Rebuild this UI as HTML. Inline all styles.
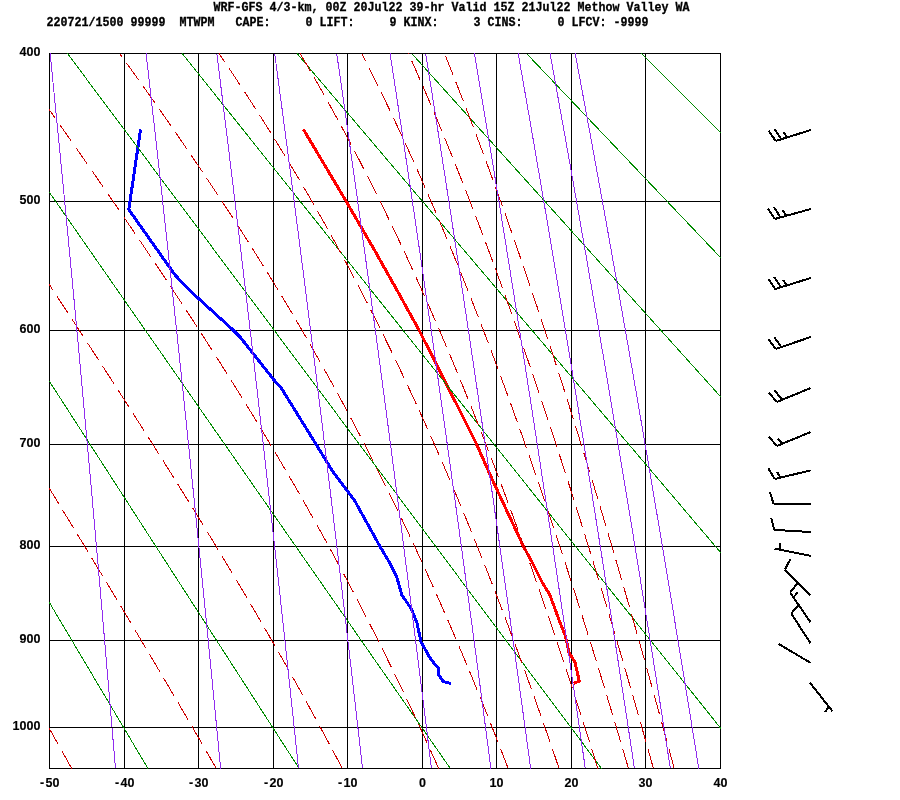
<!DOCTYPE html>
<html lang="en"><head><meta charset="utf-8"><title>WRF-GFS sounding Methow Valley WA</title>
<style>html,body{margin:0;padding:0;background:#fff}body{width:900px;height:800px;overflow:hidden}svg{display:block;will-change:transform}text{white-space:pre;font-family:"Liberation Mono","DejaVu Sans Mono",monospace;font-weight:bold;fill:#000;stroke:#000;stroke-width:.3px}.ax{font-family:"Liberation Sans","DejaVu Sans",sans-serif;font-size:12.5px;stroke-width:.15px}</style></head><body>
<svg width="900" height="800" viewBox="0 0 900 800">
<rect width="900" height="800" fill="#fff"/>
<defs><clipPath id="c"><rect x="49" y="53" width="672" height="716"/></clipPath></defs>
<path d="M49.5 53V769M124.5 53V769M198.5 53V769M273.5 53V769M347.5 53V769M422.5 53V769M496.5 53V769M571.5 53V769M645.5 53V769M720.5 53V769M49 53.5H721M49 201.5H721M49 330.5H721M49 444.5H721M49 546.5H721M49 640.5H721M49 727.5H721M49 768.5H721" fill="none" stroke="#000" stroke-width="1" shape-rendering="crispEdges"/>
<g fill="none" stroke-width="3" stroke-linejoin="round" shape-rendering="crispEdges">
<path d="M140.6 129.4L128.75 209.5L175 275L191.25 291.9L232.5 329.5L240 336.9L275 381.25L281.25 388.1L315.6 443.5L332.5 471.25L355 501.25L380 546.5L388.75 561.25L396.9 577.5L401.9 595L411.25 608.75L416.9 622.5L421 642L430.6 658.9L438.5 668.5L438.5 674.6L443.3 681.6L450.8 683.5" stroke="#00f"/>
<path d="M303.5 129.5L346.3 201.5L374.4 250L396.9 290L418.7 329.5L444.4 380L476.25 443.5L491.9 478.75L523.5 546.5L531.25 560.6L542.5 583.1L549.4 593.75L553.1 603.75L560 622.5L565 635L566.5 640.5L569 653L571 655.6L575 662.5L579.3 681L573.6 683.5" stroke="#f00"/>
</g>
<g clip-path="url(#c)" fill="none" stroke-width="1" shape-rendering="crispEdges"><g>
<path d="M-2.75 768.5L-391.09 53.5M148.46 768.5L-276.32 53.5M299.66 768.5L-161.56 53.5M450.87 768.5L-46.79 53.5M602.07 768.5L67.97 53.5M753.27 768.5L182.74 53.5M904.48 768.5L297.51 53.5M1055.68 768.5L412.27 53.5M1206.89 768.5L527.04 53.5M1358.09 768.5L641.8 53.5M1509.3 768.5L756.57 53.5M1660.5 768.5L871.34 53.5M1811.7 768.5L986.1 53.5" stroke="#008b00" transform="translate(-0.5 0)"/>
<path d="M71.75 768.5L67.2 760.4L62.62 752.24L58.01 744.03L53.36 735.76L48.68 727.43L43.96 719.04L39.2 710.59L34.41 702.08L29.57 693.5L24.7 684.86L19.79 676.16L14.84 667.39L9.85 658.55L4.82 649.64L-0.26 640.66L-5.37 631.61L-10.53 622.49L-15.73 613.29L-20.98 604.02L-26.27 594.67L-31.61 585.24L-37 575.74L-42.43 566.14L-47.92 556.47L-53.45 546.71L-59.03 536.86L-64.67 526.92L-70.36 516.89L-76.1 506.77L-81.9 496.55L-87.75 486.24L-93.67 475.82L-99.64 465.3L-105.67 454.68L-111.76 443.95L-117.92 433.11L-124.14 422.15L-130.43 411.08L-136.79 399.9L-143.21 388.59L-149.71 377.15L-156.28 365.59L-162.93 353.89L-169.65 342.06L-176.45 330.09L-183.34 317.98L-190.31 305.72L-197.36 293.31L-204.51 280.74L-211.74 268.01L-219.08 255.11L-226.51 242.04L-234.04 228.8L-241.67 215.37L-249.41 201.75L-257.27 187.94L-265.24 173.92L-273.33 159.69L-281.54 145.24L-289.88 130.57L-298.36 115.67L-306.97 100.52L-315.73 85.11L-324.64 69.44L-333.71 53.5M216.26 768.5L211.6 760.4L206.9 752.24L202.16 744.03L197.36 735.76L192.52 727.43L187.63 719.04L182.7 710.59L177.71 702.08L172.68 693.5L167.59 684.86L162.45 676.16L157.27 667.39L152.03 658.55L146.74 649.64L141.39 640.66L135.99 631.61L130.54 622.49L125.03 613.29L119.47 604.02L113.85 594.67L108.18 585.24L102.44 575.74L96.65 566.14L90.79 556.47L84.88 546.71L78.91 536.86L72.87 526.92L66.77 516.89L60.6 506.77L54.37 496.55L48.08 486.24L41.71 475.82L35.28 465.3L28.78 454.68L22.2 443.95L15.55 433.11L8.83 422.15L2.03 411.08L-4.85 399.9L-11.81 388.59L-18.84 377.15L-25.97 365.59L-33.17 353.89L-40.46 342.06L-47.85 330.09L-55.32 317.98L-62.89 305.72L-70.56 293.31L-78.32 280.74L-86.19 268.01L-94.16 255.11L-102.24 242.04L-110.43 228.8L-118.74 215.37L-127.16 201.75L-135.71 187.94L-144.39 173.92L-153.2 159.69L-162.14 145.24L-171.22 130.57L-180.45 115.67L-189.83 100.52L-199.37 85.11L-209.08 69.44L-218.95 53.5M342.3 768.5L338.04 760.4L333.71 752.24L329.33 744.03L324.89 735.76L320.4 727.43L315.84 719.04L311.22 710.59L306.53 702.08L301.79 693.5L296.98 684.86L292.1 676.16L287.16 667.39L282.14 658.55L277.06 649.64L271.91 640.66L266.69 631.61L261.4 622.49L256.03 613.29L250.59 604.02L245.07 594.67L239.48 585.24L233.81 575.74L228.06 566.14L222.23 556.47L216.32 546.71L210.32 536.86L204.25 526.92L198.09 516.89L191.84 506.77L185.5 496.55L179.08 486.24L172.57 475.82L165.97 465.3L159.27 454.68L152.48 443.95L145.6 433.11L138.62 422.15L131.54 411.08L124.37 399.9L117.09 388.59L109.71 377.15L102.23 365.59L94.64 353.89L86.95 342.06L79.14 330.09L71.22 317.98L63.19 305.72L55.05 293.31L46.78 280.74L38.39 268.01L29.88 255.11L21.25 242.04L12.48 228.8L3.58 215.37L-5.46 201.75L-14.63 187.94L-23.96 173.92L-33.43 159.69L-43.05 145.24L-52.83 130.57L-62.78 115.67L-72.9 100.52L-83.19 85.11L-93.66 69.44L-104.32 53.5M438.69 768.5L435.06 760.4L431.38 752.24L427.65 744.03L423.87 735.76L420.02 727.43L416.12 719.04L412.16 710.59L408.15 702.08L404.07 693.5L399.92 684.86L395.72 676.16L391.44 667.39L387.1 658.55L382.68 649.64L378.2 640.66L373.64 631.61L369.01 622.49L364.29 613.29L359.5 604.02L354.63 594.67L349.67 585.24L344.62 575.74L339.49 566.14L334.27 556.47L328.95 546.71L323.54 536.86L318.03 526.92L312.41 516.89L306.7 506.77L300.88 496.55L294.96 486.24L288.92 475.82L282.77 465.3L276.5 454.68L270.12 443.95L263.61 433.11L256.98 422.15L250.23 411.08L243.34 399.9L236.32 388.59L229.17 377.15L221.88 365.59L214.45 353.89L206.88 342.06L199.16 330.09L191.29 317.98L183.28 305.72L175.1 293.31L166.77 280.74L158.29 268.01L149.63 255.11L140.82 242.04L131.83 228.8L122.67 215.37L113.34 201.75L103.83 187.94L94.13 173.92L84.25 159.69L74.18 145.24L63.91 130.57L53.45 115.67L42.78 100.52L31.9 85.11L20.81 69.44L9.49 53.5M508.17 768.5L505.07 760.4L501.92 752.24L498.73 744.03L495.49 735.76L492.21 727.43L488.88 719.04L485.51 710.59L482.09 702.08L478.61 693.5L475.09 684.86L471.51 676.16L467.88 667.39L464.19 658.55L460.44 649.64L456.63 640.66L452.76 631.61L448.83 622.49L444.83 613.29L440.76 604.02L436.62 594.67L432.41 585.24L428.13 575.74L423.77 566.14L419.33 556.47L414.8 546.71L410.2 536.86L405.5 526.92L400.72 516.89L395.83 506.77L390.86 496.55L385.78 486.24L380.6 475.82L375.31 465.3L369.9 454.68L364.39 443.95L358.75 433.11L352.99 422.15L347.1 411.08L341.08 399.9L334.92 388.59L328.61 377.15L322.16 365.59L315.56 353.89L308.8 342.06L301.87 330.09L294.78 317.98L287.51 305.72L280.05 293.31L272.42 280.74L264.58 268.01L256.55 255.11L248.31 242.04L239.86 228.8L231.2 215.37L222.3 201.75L213.18 187.94L203.82 173.92L194.21 159.69L184.36 145.24L174.25 130.57L163.87 115.67L153.23 100.52L142.31 85.11L131.1 69.44L119.61 53.5M559.08 768.5L556.32 760.4L553.53 752.24L550.7 744.03L547.84 735.76L544.94 727.43L542.01 719.04L539.03 710.59L536.02 702.08L532.96 693.5L529.87 684.86L526.73 676.16L523.54 667.39L520.31 658.55L517.04 649.64L513.71 640.66L510.34 631.61L506.91 622.49L503.43 613.29L499.9 604.02L496.31 594.67L492.66 585.24L488.96 575.74L485.19 566.14L481.35 556.47L477.45 546.71L473.48 536.86L469.44 526.92L465.33 516.89L461.14 506.77L456.87 496.55L452.52 486.24L448.09 475.82L443.56 465.3L438.95 454.68L434.23 443.95L429.42 433.11L424.51 422.15L419.49 411.08L414.35 399.9L409.1 388.59L403.73 377.15L398.23 365.59L392.6 353.89L386.83 342.06L380.91 330.09L374.85 317.98L368.62 305.72L362.23 293.31L355.67 280.74L348.92 268.01L341.98 255.11L334.85 242.04L327.51 228.8L319.94 215.37L312.15 201.75L304.12 187.94L295.84 173.92L287.29 159.69L278.47 145.24L269.36 130.57L259.95 115.67L250.23 100.52L240.18 85.11L229.78 69.44L219.03 53.5M597.85 768.5L595.32 760.4L592.76 752.24L590.18 744.03L587.56 735.76L584.91 727.43L582.24 719.04L579.53 710.59L576.78 702.08L574 693.5L571.19 684.86L568.34 676.16L565.45 667.39L562.53 658.55L559.56 649.64L556.56 640.66L553.51 631.61L550.43 622.49L547.3 613.29L544.12 604.02L540.89 594.67L537.62 585.24L534.3 575.74L530.93 566.14L527.51 556.47L524.03 546.71L520.49 536.86L516.9 526.92L513.25 516.89L509.53 506.77L505.75 496.55L501.9 486.24L497.99 475.82L494 465.3L489.94 454.68L485.8 443.95L481.58 433.11L477.27 422.15L472.88 411.08L468.4 399.9L463.82 388.59L459.15 377.15L454.37 365.59L449.49 353.89L444.49 342.06L439.37 330.09L434.14 317.98L428.77 305.72L423.27 293.31L417.62 280.74L411.83 268.01L405.88 255.11L399.76 242.04L393.47 228.8L386.99 215.37L380.33 201.75L373.45 187.94L366.36 173.92L359.04 159.69L351.48 145.24L343.66 130.57L335.56 115.67L327.18 100.52L318.49 85.11L309.47 69.44L300.1 53.5M628.47 768.5L626.1 760.4L623.71 752.24L621.28 744.03L618.83 735.76L616.36 727.43L613.85 719.04L611.32 710.59L608.76 702.08L606.17 693.5L603.55 684.86L600.89 676.16L598.21 667.39L595.49 658.55L592.74 649.64L589.95 640.66L587.12 631.61L584.26 622.49L581.37 613.29L578.43 604.02L575.45 594.67L572.43 585.24L569.37 575.74L566.27 566.14L563.12 556.47L559.92 546.71L556.68 536.86L553.38 526.92L550.04 516.89L546.64 506.77L543.19 496.55L539.68 486.24L536.11 475.82L532.48 465.3L528.79 454.68L525.04 443.95L521.22 433.11L517.33 422.15L513.36 411.08L509.32 399.9L505.2 388.59L501 377.15L496.72 365.59L492.34 353.89L487.88 342.06L483.31 330.09L478.65 317.98L473.88 305.72L469 293.31L464 280.74L458.88 268.01L453.64 255.11L448.26 242.04L442.73 228.8L437.06 215.37L431.23 201.75L425.23 187.94L419.06 173.92L412.7 159.69L406.14 145.24L399.37 130.57L392.37 115.67L385.14 100.52L377.65 85.11L369.88 69.44L361.83 53.5M653.41 768.5L651.15 760.4L648.86 752.24L646.56 744.03L644.22 735.76L641.87 727.43L639.49 719.04L637.08 710.59L634.65 702.08L632.19 693.5L629.7 684.86L627.19 676.16L624.64 667.39L622.06 658.55L619.46 649.64L616.82 640.66L614.15 631.61L611.45 622.49L608.72 613.29L605.94 604.02L603.14 594.67L600.3 585.24L597.41 575.74L594.49 566.14L591.53 556.47L588.53 546.71L585.49 536.86L582.4 526.92L579.27 516.89L576.09 506.77L572.87 496.55L569.59 486.24L566.26 475.82L562.88 465.3L559.45 454.68L555.96 443.95L552.41 433.11L548.8 422.15L545.13 411.08L541.39 399.9L537.58 388.59L533.71 377.15L529.76 365.59L525.73 353.89L521.63 342.06L517.44 330.09L513.17 317.98L508.81 305.72L504.35 293.31L499.79 280.74L495.14 268.01L490.37 255.11L485.49 242.04L480.5 228.8L475.37 215.37L470.12 201.75L464.73 187.94L459.19 173.92L453.5 159.69L447.64 145.24L441.61 130.57L435.4 115.67L428.99 100.52L422.37 85.11L415.52 69.44L408.44 53.5M674.2 768.5L672.02 760.4L669.82 752.24L667.59 744.03L665.35 735.76L663.08 727.43L660.79 719.04L658.48 710.59L656.14 702.08L653.77 693.5L651.38 684.86L648.97 676.16L646.52 667.39L644.05 658.55L641.56 649.64L639.03 640.66L636.47 631.61L633.88 622.49L631.26 613.29L628.61 604.02L625.93 594.67L623.21 585.24L620.46 575.74L617.68 566.14L614.85 556.47L611.99 546.71L609.09 536.86L606.15 526.92L603.17 516.89L600.15 506.77L597.09 496.55L593.98 486.24L590.82 475.82L587.62 465.3L584.36 454.68L581.06 443.95L577.7 433.11L574.29 422.15L570.82 411.08L567.3 399.9L563.71 388.59L560.07 377.15L556.35 365.59L552.57 353.89L548.72 342.06L544.8 330.09L540.8 317.98L536.72 305.72L532.56 293.31L528.31 280.74L523.98 268.01L519.55 255.11L515.02 242.04L510.39 228.8L505.65 215.37L500.79 201.75L495.82 187.94L490.72 173.92L485.49 159.69L480.12 145.24L474.61 130.57L468.93 115.67L463.09 100.52L457.08 85.11L450.87 69.44L444.47 53.5" stroke="#cd0000" stroke-dasharray="20.5 7.5"/>
<path d="M115.44 768.5L114.77 760.4L114.09 752.24L113.4 744.03L112.7 735.76L112 727.43L111.3 719.04L110.58 710.59L109.86 702.08L109.14 693.5L108.4 684.86L107.66 676.16L106.91 667.39L106.16 658.55L105.4 649.64L104.62 640.66L103.85 631.61L103.06 622.49L102.27 613.29L101.46 604.02L100.65 594.67L99.83 585.24L99 575.74L98.16 566.14L97.32 556.47L96.46 546.71L95.59 536.86L94.72 526.92L93.83 516.89L92.93 506.77L92.02 496.55L91.1 486.24L90.17 475.82L89.23 465.3L88.27 454.68L87.31 443.95L86.33 433.11L85.33 422.15L84.33 411.08L83.31 399.9L82.27 388.59L81.22 377.15L80.16 365.59L79.08 353.89L77.98 342.06L76.87 330.09L75.74 317.98L74.6 305.72L73.43 293.31L72.25 280.74L71.05 268.01L69.82 255.11L68.58 242.04L67.32 228.8L66.03 215.37L64.72 201.75L63.38 187.94L62.02 173.92L60.64 159.69L59.22 145.24L57.78 130.57L56.31 115.67L54.81 100.52L53.28 85.11L51.71 69.44L50.11 53.5M220.62 768.5L219.84 760.4L219.06 752.24L218.27 744.03L217.48 735.76L216.68 727.43L215.87 719.04L215.05 710.59L214.23 702.08L213.4 693.5L212.56 684.86L211.71 676.16L210.86 667.39L210 658.55L209.12 649.64L208.24 640.66L207.35 631.61L206.45 622.49L205.55 613.29L204.63 604.02L203.7 594.67L202.76 585.24L201.82 575.74L200.86 566.14L199.89 556.47L198.91 546.71L197.92 536.86L196.92 526.92L195.91 516.89L194.88 506.77L193.84 496.55L192.79 486.24L191.73 475.82L190.65 465.3L189.56 454.68L188.46 443.95L187.34 433.11L186.21 422.15L185.06 411.08L183.9 399.9L182.72 388.59L181.52 377.15L180.31 365.59L179.07 353.89L177.83 342.06L176.56 330.09L175.27 317.98L173.96 305.72L172.64 293.31L171.29 280.74L169.92 268.01L168.52 255.11L167.11 242.04L165.67 228.8L164.2 215.37L162.71 201.75L161.19 187.94L159.64 173.92L158.06 159.69L156.45 145.24L154.81 130.57L153.14 115.67L151.43 100.52L149.68 85.11L147.9 69.44L146.08 53.5M298.51 768.5L297.66 760.4L296.8 752.24L295.94 744.03L295.07 735.76L294.19 727.43L293.3 719.04L292.4 710.59L291.5 702.08L290.58 693.5L289.66 684.86L288.73 676.16L287.79 667.39L286.84 658.55L285.89 649.64L284.92 640.66L283.94 631.61L282.96 622.49L281.96 613.29L280.95 604.02L279.93 594.67L278.91 585.24L277.87 575.74L276.81 566.14L275.75 556.47L274.68 546.71L273.59 536.86L272.49 526.92L271.38 516.89L270.25 506.77L269.12 496.55L267.96 486.24L266.8 475.82L265.62 465.3L264.42 454.68L263.21 443.95L261.98 433.11L260.74 422.15L259.48 411.08L258.21 399.9L256.91 388.59L255.6 377.15L254.27 365.59L252.92 353.89L251.55 342.06L250.16 330.09L248.75 317.98L247.32 305.72L245.86 293.31L244.39 280.74L242.89 268.01L241.36 255.11L239.81 242.04L238.23 228.8L236.62 215.37L234.99 201.75L233.32 187.94L231.63 173.92L229.9 159.69L228.14 145.24L226.34 130.57L224.51 115.67L222.64 100.52L220.73 85.11L218.78 69.44L216.78 53.5M362.54 768.5L361.62 760.4L360.7 752.24L359.77 744.03L358.83 735.76L357.88 727.43L356.92 719.04L355.96 710.59L354.98 702.08L354 693.5L353.01 684.86L352.01 676.16L351 667.39L349.98 658.55L348.94 649.64L347.9 640.66L346.85 631.61L345.79 622.49L344.72 613.29L343.63 604.02L342.54 594.67L341.43 585.24L340.31 575.74L339.18 566.14L338.04 556.47L336.88 546.71L335.71 536.86L334.53 526.92L333.33 516.89L332.12 506.77L330.9 496.55L329.66 486.24L328.4 475.82L327.13 465.3L325.85 454.68L324.54 443.95L323.23 433.11L321.89 422.15L320.54 411.08L319.16 399.9L317.77 388.59L316.36 377.15L314.93 365.59L313.48 353.89L312.01 342.06L310.52 330.09L309 317.98L307.46 305.72L305.9 293.31L304.31 280.74L302.7 268.01L301.06 255.11L299.39 242.04L297.69 228.8L295.97 215.37L294.21 201.75L292.42 187.94L290.6 173.92L288.75 159.69L286.86 145.24L284.93 130.57L282.96 115.67L280.95 100.52L278.9 85.11L276.81 69.44L274.67 53.5M431.44 768.5L430.45 760.4L429.45 752.24L428.45 744.03L427.43 735.76L426.41 727.43L425.37 719.04L424.33 710.59L423.28 702.08L422.22 693.5L421.15 684.86L420.07 676.16L418.98 667.39L417.87 658.55L416.76 649.64L415.64 640.66L414.5 631.61L413.35 622.49L412.2 613.29L411.03 604.02L409.84 594.67L408.65 585.24L407.44 575.74L406.22 566.14L404.99 556.47L403.74 546.71L402.48 536.86L401.2 526.92L399.91 516.89L398.61 506.77L397.29 496.55L395.95 486.24L394.6 475.82L393.23 465.3L391.84 454.68L390.44 443.95L389.02 433.11L387.57 422.15L386.12 411.08L384.64 399.9L383.14 388.59L381.62 377.15L380.08 365.59L378.51 353.89L376.93 342.06L375.32 330.09L373.68 317.98L372.03 305.72L370.34 293.31L368.63 280.74L366.89 268.01L365.13 255.11L363.33 242.04L361.5 228.8L359.65 215.37L357.75 201.75L355.83 187.94L353.87 173.92L351.87 159.69L349.84 145.24L347.76 130.57L345.64 115.67L343.48 100.52L341.28 85.11L339.02 69.44L336.72 53.5M490.89 768.5L489.84 760.4L488.78 752.24L487.7 744.03L486.62 735.76L485.53 727.43L484.43 719.04L483.32 710.59L482.2 702.08L481.07 693.5L479.93 684.86L478.77 676.16L477.61 667.39L476.44 658.55L475.25 649.64L474.05 640.66L472.84 631.61L471.62 622.49L470.39 613.29L469.14 604.02L467.88 594.67L466.61 585.24L465.32 575.74L464.02 566.14L462.71 556.47L461.38 546.71L460.03 536.86L458.68 526.92L457.3 516.89L455.91 506.77L454.5 496.55L453.08 486.24L451.64 475.82L450.18 465.3L448.71 454.68L447.21 443.95L445.7 433.11L444.16 422.15L442.61 411.08L441.04 399.9L439.44 388.59L437.82 377.15L436.18 365.59L434.52 353.89L432.83 342.06L431.12 330.09L429.38 317.98L427.61 305.72L425.82 293.31L424 280.74L422.15 268.01L420.27 255.11L418.36 242.04L416.42 228.8L414.45 215.37L412.43 201.75L410.39 187.94L408.3 173.92L406.18 159.69L404.02 145.24L401.81 130.57L399.56 115.67L397.26 100.52L394.92 85.11L392.52 69.44L390.08 53.5M530.66 768.5L529.56 760.4L528.45 752.24L527.33 744.03L526.2 735.76L525.07 727.43L523.92 719.04L522.76 710.59L521.59 702.08L520.41 693.5L519.22 684.86L518.02 676.16L516.81 667.39L515.58 658.55L514.35 649.64L513.1 640.66L511.84 631.61L510.57 622.49L509.28 613.29L507.98 604.02L506.67 594.67L505.34 585.24L504 575.74L502.65 566.14L501.28 556.47L499.89 546.71L498.49 536.86L497.08 526.92L495.64 516.89L494.2 506.77L492.73 496.55L491.25 486.24L489.75 475.82L488.23 465.3L486.69 454.68L485.13 443.95L483.56 433.11L481.96 422.15L480.34 411.08L478.7 399.9L477.04 388.59L475.35 377.15L473.64 365.59L471.91 353.89L470.15 342.06L468.37 330.09L466.56 317.98L464.72 305.72L462.86 293.31L460.96 280.74L459.04 268.01L457.08 255.11L455.09 242.04L453.07 228.8L451.02 215.37L448.92 201.75L446.79 187.94L444.62 173.92L442.41 159.69L440.16 145.24L437.86 130.57L435.52 115.67L433.13 100.52L430.69 85.11L428.2 69.44L425.66 53.5M585.3 768.5L584.14 760.4L582.97 752.24L581.79 744.03L580.59 735.76L579.39 727.43L578.18 719.04L576.95 710.59L575.72 702.08L574.47 693.5L573.21 684.86L571.94 676.16L570.66 667.39L569.36 658.55L568.06 649.64L566.74 640.66L565.41 631.61L564.06 622.49L562.7 613.29L561.33 604.02L559.94 594.67L558.54 585.24L557.12 575.74L555.69 566.14L554.24 556.47L552.78 546.71L551.3 536.86L549.8 526.92L548.29 516.89L546.76 506.77L545.21 496.55L543.65 486.24L542.06 475.82L540.46 465.3L538.83 454.68L537.19 443.95L535.52 433.11L533.83 422.15L532.13 411.08L530.39 399.9L528.64 388.59L526.86 377.15L525.06 365.59L523.23 353.89L521.37 342.06L519.49 330.09L517.58 317.98L515.64 305.72L513.67 293.31L511.67 280.74L509.64 268.01L507.57 255.11L505.48 242.04L503.34 228.8L501.17 215.37L498.96 201.75L496.71 187.94L494.43 173.92L492.09 159.69L489.72 145.24L487.3 130.57L484.83 115.67L482.31 100.52L479.74 85.11L477.11 69.44L474.42 53.5M634.45 768.5L633.23 760.4L632 752.24L630.75 744.03L629.5 735.76L628.24 727.43L626.96 719.04L625.68 710.59L624.38 702.08L623.07 693.5L621.75 684.86L620.42 676.16L619.07 667.39L617.71 658.55L616.34 649.64L614.95 640.66L613.56 631.61L612.14 622.49L610.72 613.29L609.27 604.02L607.82 594.67L606.35 585.24L604.86 575.74L603.36 566.14L601.84 556.47L600.3 546.71L598.75 536.86L597.18 526.92L595.59 516.89L593.99 506.77L592.36 496.55L590.72 486.24L589.06 475.82L587.37 465.3L585.67 454.68L583.94 443.95L582.2 433.11L580.43 422.15L578.63 411.08L576.82 399.9L574.98 388.59L573.11 377.15L571.22 365.59L569.3 353.89L567.36 342.06L565.38 330.09L563.38 317.98L561.35 305.72L559.28 293.31L557.18 280.74L555.05 268.01L552.89 255.11L550.69 242.04L548.45 228.8L546.18 215.37L543.86 201.75L541.51 187.94L539.11 173.92L536.67 159.69L534.18 145.24L531.64 130.57L529.05 115.67L526.41 100.52L523.72 85.11L520.97 69.44L518.15 53.5M670.37 768.5L669.1 760.4L667.83 752.24L666.54 744.03L665.24 735.76L663.93 727.43L662.61 719.04L661.28 710.59L659.94 702.08L658.58 693.5L657.21 684.86L655.83 676.16L654.44 667.39L653.03 658.55L651.61 649.64L650.18 640.66L648.73 631.61L647.27 622.49L645.79 613.29L644.3 604.02L642.79 594.67L641.27 585.24L639.73 575.74L638.17 566.14L636.6 556.47L635.01 546.71L633.4 536.86L631.78 526.92L630.14 516.89L628.47 506.77L626.79 496.55L625.09 486.24L623.37 475.82L621.63 465.3L619.86 454.68L618.08 443.95L616.27 433.11L614.44 422.15L612.58 411.08L610.7 399.9L608.8 388.59L606.87 377.15L604.91 365.59L602.93 353.89L600.91 342.06L598.87 330.09L596.8 317.98L594.7 305.72L592.56 293.31L590.39 280.74L588.19 268.01L585.95 255.11L583.68 242.04L581.36 228.8L579.01 215.37L576.62 201.75L574.18 187.94L571.7 173.92L569.18 159.69L566.6 145.24L563.98 130.57L561.3 115.67L558.57 100.52L555.79 85.11L552.94 69.44L550.04 53.5M698.76 768.5L697.46 760.4L696.15 752.24L694.82 744.03L693.49 735.76L692.15 727.43L690.79 719.04L689.42 710.59L688.04 702.08L686.65 693.5L685.24 684.86L683.82 676.16L682.39 667.39L680.95 658.55L679.49 649.64L678.01 640.66L676.52 631.61L675.02 622.49L673.5 613.29L671.97 604.02L670.42 594.67L668.86 585.24L667.28 575.74L665.68 566.14L664.06 556.47L662.43 546.71L660.78 536.86L659.11 526.92L657.42 516.89L655.72 506.77L653.99 496.55L652.24 486.24L650.47 475.82L648.68 465.3L646.87 454.68L645.04 443.95L643.18 433.11L641.3 422.15L639.4 411.08L637.47 399.9L635.51 388.59L633.53 377.15L631.52 365.59L629.48 353.89L627.42 342.06L625.32 330.09L623.19 317.98L621.03 305.72L618.84 293.31L616.61 280.74L614.35 268.01L612.05 255.11L609.72 242.04L607.34 228.8L604.93 215.37L602.47 201.75L599.97 187.94L597.43 173.92L594.83 159.69L592.19 145.24L589.5 130.57L586.75 115.67L583.95 100.52L581.09 85.11L578.18 69.44L575.19 53.5" stroke="#912cee"/>
</g></g>
<path d="M810.7 130L775.7 141M775.7 141L768.74 130.86M781.42 139.2L774.47 129.06M787.15 137.4L783.47 132.04M810.7 209L774.7 219M774.7 219L768.09 208.63M780.48 217.39L773.87 207.02M786.26 215.79L782.77 210.31M810.7 278L775.3 289M775.3 289L768.38 278.83M781.03 287.22L774.11 277.05M786.76 285.44L783.1 280.07M810.7 337L775.7 349M775.7 349L768.48 339.04M781.38 347.05L774.16 337.09M810.7 388L776.7 402M776.7 402L768.9 392.49M782.25 399.72L774.44 390.21M810.7 432L776.7 446M776.7 446L768.9 436.49M782.25 443.72L778.12 438.69M810.6 470.4L774.6 479M774.6 479L768.37 468.39M780.44 477.61L777.14 472M810.6 503.75L773.5 503.75M773.5 503.75L769.9 491.99M811 532L774.25 529.9M774.25 529.9L771.33 517.95M811 555.9L774.6 548.6M780.48 549.78L779.84 543.31M810.4 595L784.9 569.5M784.9 569.5L790.67 558.64M810.4 622.1L790.1 592.5M790.1 592.5L797.77 582.88M793.49 597.45L797.54 592.37M810.4 643.1L791.25 613.5M791.25 613.5L799.17 604.09M810.6 662.9L778.5 643.8M810 682.8L832.5 711.3M828.78 706.59L825.08 711.93" fill="none" stroke="#000" stroke-width="2" stroke-linecap="butt" shape-rendering="crispEdges"/>
<g font-size="12px">
<text x="213.5" y="11" textLength="476" lengthAdjust="spacingAndGlyphs">WRF-GFS 4/3-km, 00Z 20Jul22 39-hr Valid 15Z 21Jul22 Methow Valley WA</text>
<text x="46.5" y="26" textLength="602" lengthAdjust="spacingAndGlyphs">220721/1500 99999  MTWPM   CAPE:     0 LIFT:     9 KINX:     3 CINS:     0 LFCV: -9999</text>
<text class="ax" text-anchor="middle" x="23 30 37" y="56">400</text>
<text class="ax" text-anchor="middle" x="23 30 37" y="204">500</text>
<text class="ax" text-anchor="middle" x="23 30 37" y="333">600</text>
<text class="ax" text-anchor="middle" x="23 30 37" y="447">700</text>
<text class="ax" text-anchor="middle" x="23 30 37" y="549">800</text>
<text class="ax" text-anchor="middle" x="23 30 37" y="643">900</text>
<text class="ax" text-anchor="middle" x="16 23 30 37" y="730">1000</text>
<text class="ax" text-anchor="middle" x="42 49 56" y="787">-50</text>
<text class="ax" text-anchor="middle" x="117 124 131" y="787">-40</text>
<text class="ax" text-anchor="middle" x="191 198 205" y="787">-30</text>
<text class="ax" text-anchor="middle" x="266 273 280" y="787">-20</text>
<text class="ax" text-anchor="middle" x="340 347 354" y="787">-10</text>
<text class="ax" text-anchor="middle" x="422.5" y="787">0</text>
<text class="ax" text-anchor="middle" x="493 500" y="787">10</text>
<text class="ax" text-anchor="middle" x="568 575" y="787">20</text>
<text class="ax" text-anchor="middle" x="642 649" y="787">30</text>
<text class="ax" text-anchor="middle" x="717 724" y="787">40</text>
</g>
</svg></body></html>
